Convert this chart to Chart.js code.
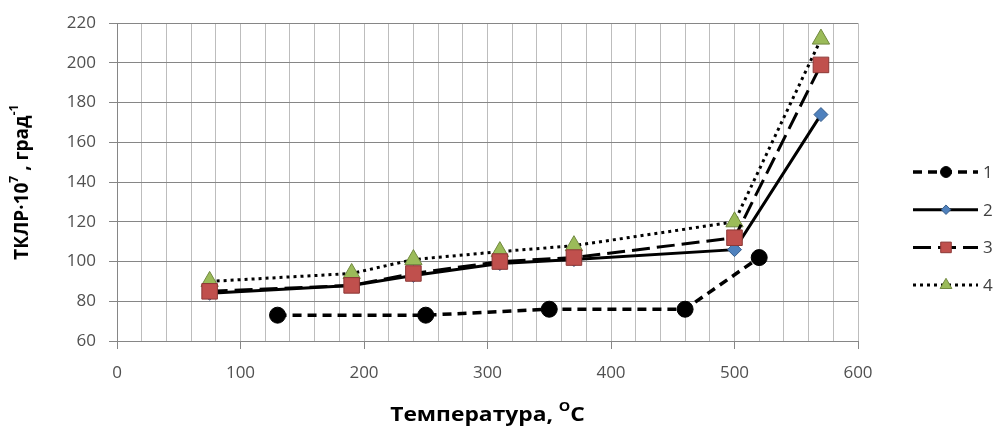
<!DOCTYPE html>
<html>
<head>
<meta charset="utf-8">
<script src="https://cdn.jsdelivr.net/npm/chart.js@4/dist/chart.umd.min.js"></script>
<style>
  body { margin: 0; background: #fff; }
  canvas { display: block; }
</style>
</head>
<body>
<canvas id="chart" width="996" height="428"></canvas>
<script>
// Данные
const labels = ['1', '2', '3', '4'];
const temps1 = [130, 250, 350, 460, 520];
const tklr1 = [73, 73, 76, 76, 102];
const temps = [75, 190, 240, 310, 370, 500, 570];
const tklr2 = [84, 88, 93, 99, 101, 106, 174];
const tklr3 = [85, 88, 94, 100, 102, 112, 199];
const tklr4 = [90, 94, 101, 105, 108, 120, 212];

const FONT = "'Open Sans', 'Liberation Sans', sans-serif";

function toPoints(xs, ys) {
  return xs.map((x, i) => ({ x: x, y: ys[i] }));
}

// Рисование маркера (для легенды)
function drawMarker(ctx, ds, x, y, k) {
  const r = ds.pointRadius * k;
  ctx.save();
  ctx.fillStyle = ds.pointBackgroundColor;
  ctx.strokeStyle = ds.pointBorderColor;
  ctx.lineWidth = ds.pointBorderWidth;
  ctx.setLineDash([]);
  ctx.beginPath();
  if (ds.pointStyle === 'circle') {
    ctx.arc(x, y, r, 0, Math.PI * 2);
  } else if (ds.pointStyle === 'rect') {
    const s = Math.SQRT1_2 * r;
    ctx.rect(x - s, y - s, 2 * s, 2 * s);
  } else if (ds.pointStyle === 'rectRot') {
    ctx.moveTo(x, y - r);
    ctx.lineTo(x + r, y);
    ctx.lineTo(x, y + r);
    ctx.lineTo(x - r, y);
    ctx.closePath();
  } else if (ds.pointStyle === 'triangle') {
    ctx.moveTo(x, y - r);
    ctx.lineTo(x + r * Math.sin(Math.PI / 3), y + r / 2);
    ctx.lineTo(x - r * Math.sin(Math.PI / 3), y + r / 2);
    ctx.closePath();
  }
  ctx.fill();
  ctx.stroke();
  ctx.restore();
}

// Текст с верхними индексами
function drawRich(ctx, parts, x, y, size) {
  const base = 'bold ' + size + 'px ' + FONT;
  const sup = 'bold ' + Math.round(size * 0.63) + 'px ' + FONT;
  let total = 0;
  parts.forEach((p) => {
    ctx.font = p.sup ? sup : base;
    total += ctx.measureText(p.t).width;
  });
  let cx = x - total / 2;
  ctx.textBaseline = 'middle';
  ctx.textAlign = 'left';
  parts.forEach((p) => {
    ctx.font = p.sup ? sup : base;
    ctx.fillText(p.t, cx, p.sup ? y - size * 0.42 : y);
    cx += ctx.measureText(p.t).width;
  });
}

const customDecor = {
  id: 'customDecor',
  afterDraw(chart) {
    const ctx = chart.ctx;
    const area = chart.chartArea;
    ctx.save();
    ctx.fillStyle = '#000';
    // подпись оси X (немного растянута по ширине, как в оригинале)
    ctx.save();
    ctx.translate((area.left + area.right) / 2, 416);
    ctx.scale(1.2, 1);
    drawRich(ctx, [
      { t: 'Температура, ' },
      { t: 'O', sup: true },
      { t: 'C' },
    ], 0, 0, 19);
    ctx.restore();
    // подпись оси Y
    ctx.save();
    ctx.translate(23, (area.top + area.bottom) / 2);
    ctx.rotate(-Math.PI / 2);
    drawRich(ctx, [
      { t: 'ТКЛР·10' },
      { t: '7', sup: true },
      { t: ' , град' },
      { t: '-1', sup: true },
    ], 0, 0, 19);
    ctx.restore();

    // легенда
    chart.data.datasets.forEach((ds, i) => {
      const y = 172 + i * 37.7;
      ctx.save();
      ctx.strokeStyle = ds.borderColor;
      ctx.lineWidth = ds.borderWidth;
      ctx.setLineDash(ds.borderDash || []);
      ctx.beginPath();
      ctx.moveTo(913, y);
      ctx.lineTo(978, y);
      ctx.stroke();
      ctx.restore();
      drawMarker(ctx, ds, 946, y, 0.68);
      ctx.fillStyle = '#404040';
      ctx.font = '17px ' + FONT;
      ctx.textAlign = 'left';
      ctx.textBaseline = 'middle';
      ctx.fillText(labels[i], 983, y + 1);
    });
    ctx.restore();
  },
};

new Chart(document.getElementById('chart'), {
  type: 'line',
  data: {
    datasets: [
      {
        label: labels[0],
        data: toPoints(temps1, tklr1),
        order: 0,
        borderColor: '#000',
        borderWidth: 3.5,
        borderDash: [9, 6],
        pointStyle: 'circle',
        pointRadius: 8,
        pointBackgroundColor: '#000',
        pointBorderColor: '#000',
        pointBorderWidth: 1,
      },
      {
        label: labels[1],
        data: toPoints(temps, tklr2),
        order: 2,
        borderColor: '#000',
        borderWidth: 3,
        pointStyle: 'rectRot',
        pointRadius: 7,
        pointBackgroundColor: '#4f81bd',
        pointBorderColor: '#385d8a',
        pointBorderWidth: 1,
      },
      {
        label: labels[2],
        data: toPoints(temps, tklr3),
        order: 1,
        borderColor: '#000',
        borderWidth: 3,
        borderDash: [18, 7],
        pointStyle: 'rect',
        pointRadius: 11,
        pointBackgroundColor: '#c0504d',
        pointBorderColor: '#8c3836',
        pointBorderWidth: 1,
      },
      {
        label: labels[3],
        data: toPoints(temps, tklr4),
        order: 3,
        borderColor: '#000',
        borderWidth: 3,
        borderDash: [3, 4],
        pointStyle: 'triangle',
        pointRadius: 10,
        pointBackgroundColor: '#9bbb59',
        pointBorderColor: '#71893f',
        pointBorderWidth: 1,
      },
    ],
  },
  options: {
    responsive: false,
    animation: false,
    devicePixelRatio: 1,
    layout: { padding: { top: 20, right: 138, left: 0, bottom: 0 } },
    plugins: { legend: { display: false }, tooltip: { enabled: false } },
    elements: { line: { tension: 0 } },
    scales: {
      x: {
        type: 'linear',
        min: 0,
        max: 600,
        afterFit: (s) => { s.height = 87; },
        ticks: {
          stepSize: 20,
          autoSkip: false,
          maxRotation: 0,
          padding: 14,
          color: '#505050',
          font: { size: 17, family: FONT },
          callback: (v) => (v % 100 === 0 ? v : ''),
        },
        grid: {
          color: '#bdbdbd',
          tickLength: 8,
          tickColor: (c) => (c.tick && c.tick.value % 100 === 0 ? '#868686' : 'rgba(0,0,0,0)'),
        },
        border: { color: '#868686', width: 1 },
      },
      y: {
        min: 60,
        max: 220,
        afterFit: (s) => { s.width = 117; },
        ticks: {
          stepSize: 20,
          padding: 13,
          color: '#505050',
          font: { size: 17, family: FONT },
        },
        grid: { color: '#868686', tickLength: 8, tickColor: '#868686' },
        border: { color: '#868686', width: 1 },
      },
    },
  },
  plugins: [customDecor],
});
</script>
</body>
</html>
